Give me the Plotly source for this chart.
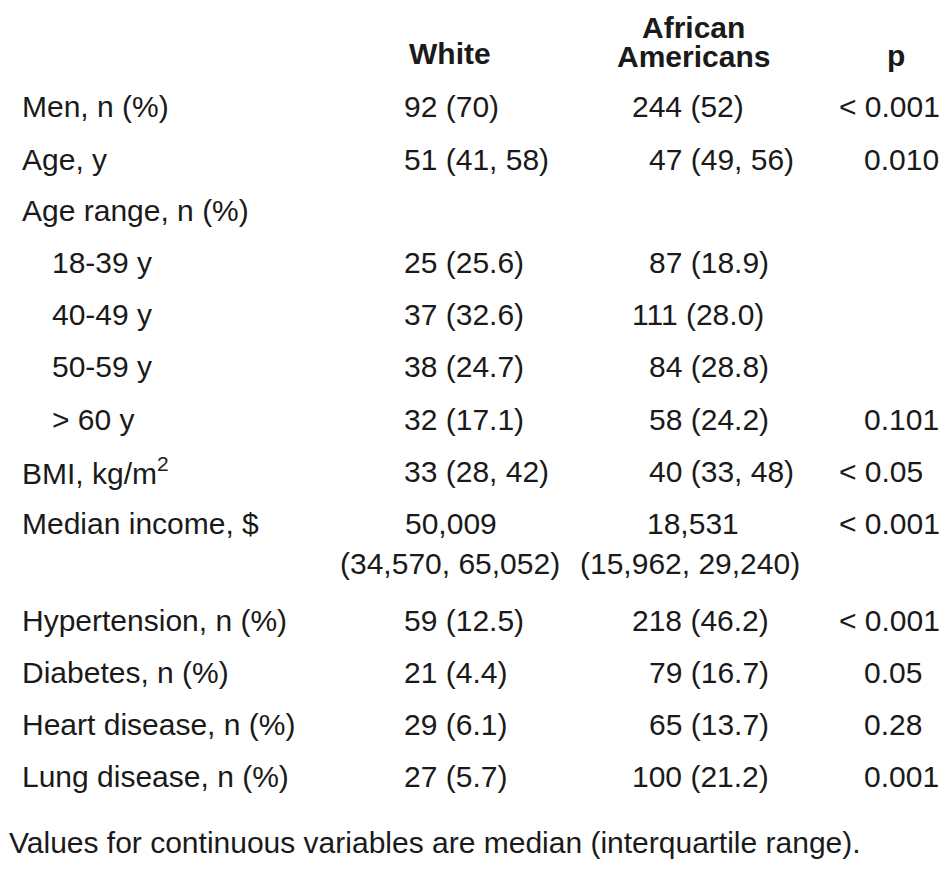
import plotly.graph_objects as go

# ---- data ----
labels = ["Men, n (%)", "Age, y", "Age range, n (%)", "18-39 y", "40-49 y", "50-59 y",
          "> 60 y", "BMI, kg/m<sup>2</sup>", "Median income, $", "Hypertension, n (%)",
          "Diabetes, n (%)", "Heart disease, n (%)", "Lung disease, n (%)"]
indent = [False, False, False, True, True, True, True, False, False, False, False, False, False]
white = ["92 (70)", "51 (41, 58)", "", "25 (25.6)", "37 (32.6)", "38 (24.7)", "32 (17.1)",
         "33 (28, 42)", "50,009", "59 (12.5)", "21 (4.4)", "29 (6.1)", "27 (5.7)"]
african = ["244 (52)", "47 (49, 56)", "", "87 (18.9)", "111 (28.0)", "84 (28.8)", "58 (24.2)",
           "40 (33, 48)", "18,531", "218 (46.2)", "79 (16.7)", "65 (13.7)", "100 (21.2)"]
pvals = ["< 0.001", "0.010", "", "", "", "", "0.101", "< 0.05", "< 0.001", "< 0.001",
         "0.05", "0.28", "0.001"]
income_iqr_white = "(34,570, 65,052)"
income_iqr_african = "(15,962, 29,240)"
headers = ["White", "African", "Americans", "p"]
footnote = "Values for continuous variables are median (interquartile range)."

# ---- layout ----
W, H = 952, 869
OX, OY = 10, 8          # page offset (body margin + annotation padding)
FONT = "Liberation Sans Narrow, Arial Narrow, Liberation Sans, Arial, sans-serif"
FS = 30
COL = "#1a1a1a"
row_y = [106, 159, 210, 262, 314, 366, 419, 471, 523, 620, 672, 724, 776]
digit_w = 0.556 * FS

ann = []
def add(x, y, t, anchor="left", bold=False, size=FS):
    ann.append(dict(x=x, y=y, xref="x", yref="y", text=("<b>%s</b>" % t) if bold else t,
                    showarrow=False, xanchor=anchor, yanchor="middle", borderpad=0,
                    font=dict(family=FONT, size=size, color=COL)))

# headers
add(452, 53, headers[0], "center", True)
add(695, 27, headers[1], "center", True)
add(695, 56, headers[2], "center", True)
add(898, 55, headers[3], "center", True)

for i, y in enumerate(row_y):
    add(53 if indent[i] else 23, y, labels[i])
    if i == 8:
        add(453, y, white[i], "center")
        add(695, y, african[i], "center")
        add(452, y + 40, income_iqr_white, "center")
        add(692, y + 40, income_iqr_african, "center")
    else:
        if white[i]:
            nd = len(white[i].split(" ")[0])
            add(405 + (2 - nd) * digit_w, y, white[i])
        if african[i]:
            nd = len(african[i].split(" ")[0])
            add(633 + (3 - nd) * digit_w, y, african[i])
    if pvals[i]:
        add(840 if pvals[i].startswith("<") else 865, y, pvals[i])

add(OX, 842, footnote)

fig = go.Figure()
fig.update_layout(
    width=W, height=H, margin=dict(l=0, r=0, t=0, b=0),
    paper_bgcolor="white", plot_bgcolor="white",
    xaxis=dict(range=[OX, W + OX], visible=False, fixedrange=True),
    yaxis=dict(range=[H + OY, OY], visible=False, fixedrange=True),
    annotations=ann, showlegend=False,
)
fig.write_html("out.html")
